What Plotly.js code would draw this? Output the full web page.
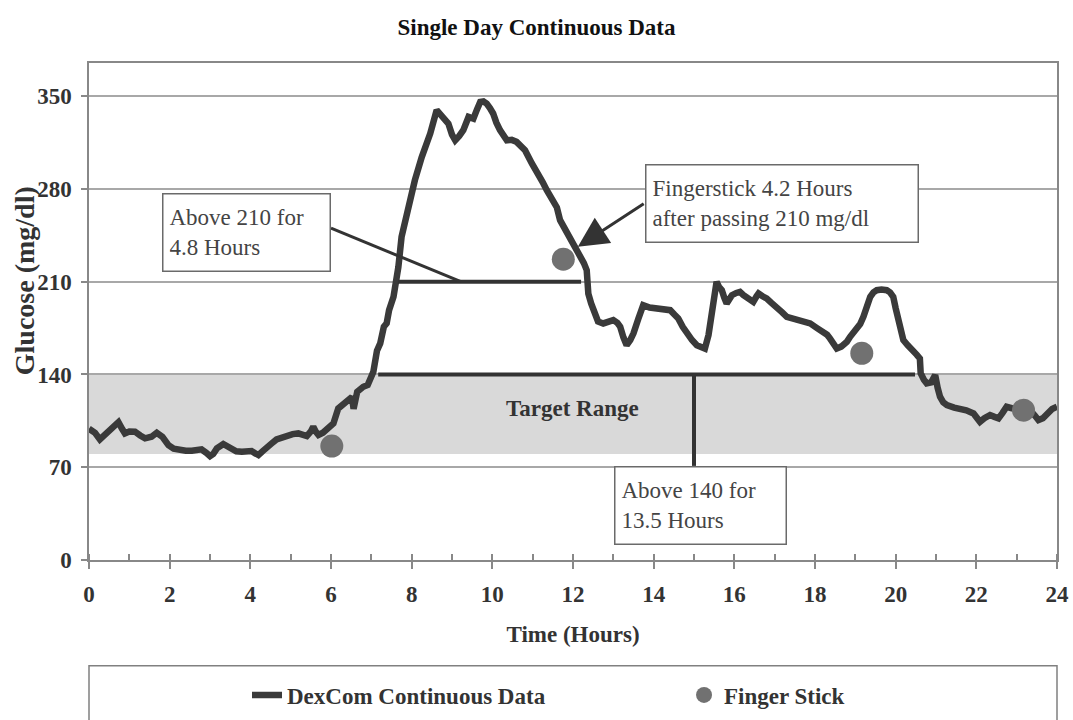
<!DOCTYPE html>
<html>
<head>
<meta charset="utf-8">
<script src="https://cdn.plot.ly/plotly-3.0.1.min.js"></script>
<style>html,body{margin:0;padding:0;background:#fff;}#chart{width:1073px;height:720px;}</style>
</head>
<body>
<div id="chart"></div>
<script>
// ---- Data ----
const dexcomHours = [0.00,0.15,0.27,0.40,0.48,0.60,0.73,0.82,0.89,1.00,1.14,1.27,1.39,1.55,1.68,1.82,1.97,2.10,2.21,2.40,2.55,2.70,2.79,2.90,3.00,3.08,3.17,3.33,3.45,3.54,3.65,3.79,3.90,4.03,4.12,4.20,4.30,4.41,4.53,4.65,4.80,4.94,5.05,5.19,5.30,5.40,5.50,5.56,5.62,5.69,5.80,5.89,5.98,6.06,6.18,6.28,6.35,6.45,6.52,6.56,6.65,6.80,6.91,7.05,7.14,7.22,7.31,7.38,7.44,7.55,7.67,7.75,7.92,8.08,8.25,8.46,8.62,8.70,8.79,8.91,9.00,9.08,9.18,9.28,9.41,9.53,9.62,9.70,9.78,9.86,9.94,10.02,10.10,10.19,10.36,10.48,10.60,10.70,10.81,10.98,11.14,11.25,11.35,11.51,11.60,11.68,11.80,11.93,12.05,12.17,12.27,12.34,12.38,12.45,12.55,12.62,12.75,12.88,13.00,13.10,13.17,13.25,13.33,13.42,13.50,13.62,13.74,13.90,14.08,14.25,14.41,14.52,14.61,14.72,14.82,14.95,15.07,15.18,15.27,15.36,15.44,15.50,15.56,15.62,15.69,15.75,15.81,15.88,15.94,16.05,16.14,16.22,16.31,16.40,16.47,16.55,16.60,16.70,16.80,16.92,17.05,17.18,17.30,17.45,17.63,17.75,17.88,18.05,18.21,18.30,18.37,18.46,18.54,18.65,18.79,18.87,19.04,19.12,19.20,19.28,19.37,19.45,19.53,19.65,19.78,19.86,19.94,20.00,20.07,20.12,20.19,20.30,20.44,20.52,20.60,20.62,20.70,20.77,20.88,20.98,21.04,21.10,21.18,21.27,21.45,21.60,21.75,21.93,22.00,22.09,22.20,22.34,22.45,22.55,22.65,22.75,22.88,23.00,23.15,23.33,23.45,23.54,23.65,23.75,23.88,24.00];
const dexcomGlucose = [99,96,91,95,98,101,104,99,95.5,97,96.8,94,91.8,93,96,93,86.7,84,83,82.5,82.4,83,83.5,81,78.4,80,84.2,87.5,85,83,82,81.7,82.5,82.2,80.5,79.2,82,85.4,88,91,93,94.3,95,95.5,94.5,93.5,97,100.5,97,94.3,96,98,100,103,114.4,117,119.4,121,123,114,127,130.7,132,142,158,163.4,176,178.5,188.5,198.6,221,243.8,266.4,286.6,304,321.8,339.4,337,334.3,329.3,321,316.7,320,324.3,334.3,333,340,345.6,346,344.4,341,336.9,330,324.3,316.7,317,315.5,313,309.2,299.2,291.6,285,279,271.5,266,256.4,250,243.8,238,231.3,224,218.7,201,193.6,186,180,178.5,180,181,179,176,168,162.1,166,171,182,192.3,190.5,189.8,189,188.5,185,182.3,176,171,166,162.1,160,159.6,169.7,184.8,200,209.9,206,203.6,198,193.6,197,199.8,201.5,202.3,200,198.6,196,194.8,199,201.1,199,197.4,194,191,187,183.5,182.5,181,180,178.5,175,172.2,170,167.2,163,159.6,161,164.6,168.4,174,178,183.5,191,198.6,202,203.6,204,203.6,202,198.6,190,181,173,166,162,158.4,155,152.1,141,136,133.3,134,139.5,130,123.2,119,116.9,115,114.4,113,110.6,107,104.3,107,109.4,108,106.9,111,115.6,114.5,114.4,113.5,113.1,109,105.6,107,110.6,114,115.6];

const fingerHours = [6.02, 11.76, 19.16, 23.17];
const fingerGlucose = [86, 227, 156, 113];

const targetRange = [80, 140];
const yTickVals = [0, 70, 140, 210, 280, 350];
const above210Span = [7.66, 12.2];   // hours, horizontal bar at 210
const above140Span = [7.17, 20.48];  // hours, horizontal bar at 140

const SERIF = '"Liberation Serif", "Times New Roman", serif';
const FS = 23;

const traces = [
  {
    x: dexcomHours, y: dexcomGlucose, type: 'scatter', mode: 'lines',
    name: 'DexCom Continuous Data', legend: 'legend',
    line: {color: '#3a3a3a', width: 6.5, shape: 'linear'}
  },
  {
    x: fingerHours, y: fingerGlucose, type: 'scatter', mode: 'markers',
    name: 'Finger Stick', legend: 'legend2',
    marker: {color: '#717171', size: 23, line: {width: 0}}
  }
];

const boxStyle = {
  showarrow: false, bgcolor: '#ffffff', bordercolor: '#6a6a6a', borderwidth: 1.5,
  borderpad: 6, align: 'left', xanchor: 'center', yanchor: 'middle',
  font: {family: SERIF, size: FS, color: '#444'}
};

const legendCommon = {
  orientation: 'h', xanchor: 'left', xref: 'container', yref: 'container',
  y: 0.0347, yanchor: 'middle',
  font: {family: SERIF, size: FS, weight: 'bold', color: '#333'},
  bgcolor: 'rgba(0,0,0,0)', borderwidth: 0, itemsizing: 'trace'
};

const layout = {
  width: 1073, height: 720,
  margin: {l: 89, r: 16, t: 63, b: 160},
  paper_bgcolor: '#ffffff', plot_bgcolor: '#ffffff',
  font: {family: SERIF, color: '#333'},
  title: {
    text: 'Single Day Continuous Data',
    font: {family: SERIF, size: FS, weight: 'bold', color: '#111'},
    x: 0.5, xref: 'container', y: 0.9625, yref: 'container', yanchor: 'middle'
  },
  showlegend: true,
  legend: Object.assign({}, legendCommon, {x: 0.2302}),
  legend2: Object.assign({}, legendCommon, {x: 0.6375}),
  xaxis: {
    range: [0, 24], tick0: 0, dtick: 2,
    ticks: 'outside', ticklen: 7, tickwidth: 1.5, tickcolor: '#888',
    showline: true, linecolor: '#888', linewidth: 1.5, mirror: true,
    showgrid: false, zeroline: false, ticklabelstandoff: 6, automargin: false,
    tickfont: {family: SERIF, size: FS, weight: 'bold', color: '#333'},
    minor: {dtick: 1, ticks: 'inside', ticklen: 6, tickwidth: 1.5, tickcolor: '#888', showgrid: false},
    title: {text: 'Time (Hours)', font: {family: SERIF, size: FS, weight: 'bold', color: '#333'}, standoff: 20}
  },
  yaxis: {
    range: [0, 375], tickvals: yTickVals,
    ticks: 'outside', ticklen: 6, tickwidth: 1.5, tickcolor: '#888',
    showline: true, linecolor: '#888', linewidth: 1.5, mirror: true,
    showgrid: true, gridcolor: '#a8a8a8', gridwidth: 1.5, zeroline: false,
    ticklabelstandoff: 5, automargin: false,
    tickfont: {family: SERIF, size: FS, weight: 'bold', color: '#333'}
  },
  shapes: [
    {type: 'rect', xref: 'x', yref: 'y', x0: 0, x1: 24, y0: targetRange[0], y1: targetRange[1],
     fillcolor: '#d9d9d9', line: {width: 0}, layer: 'below'},
    {type: 'line', xref: 'x', yref: 'y', x0: above210Span[0], x1: above210Span[1], y0: 210, y1: 210,
     line: {color: '#333', width: 4}},
    {type: 'line', xref: 'x', yref: 'y', x0: above140Span[0], x1: above140Span[1], y0: 140, y1: 140,
     line: {color: '#333', width: 4}},
    {type: 'line', xref: 'x', yref: 'y', x0: 15, x1: 15, y0: 140, y1: 71,
     line: {color: '#333', width: 4}},
    {type: 'line', xref: 'x', yref: 'y', x0: 6.0, x1: 9.22, y0: 250.4, y1: 210,
     line: {color: '#333', width: 3}},
    {type: 'rect', xref: 'paper', yref: 'paper', x0: 0, x1: 1, y0: -0.2127, y1: -0.345,
     line: {color: '#808080', width: 1.5}, fillcolor: 'rgba(0,0,0,0)'}
  ],
  annotations: [
    {text: 'Target Range', x: 11.98, y: 114.6, xref: 'x', yref: 'y', showarrow: false,
     font: {family: SERIF, size: FS, weight: 'bold', color: '#333'}},
    Object.assign({}, boxStyle, {text: 'Above 210 for<br>4.8 Hours', x: 3.91, y: 247, xref: 'x', yref: 'y', width: 154, height: 64}),
    Object.assign({}, boxStyle, {text: 'Fingerstick 4.2 Hours<br>after passing 210 mg/dl', x: 17.18, y: 268.9, xref: 'x', yref: 'y', width: 259, height: 64}),
    Object.assign({}, boxStyle, {text: 'Above 140 for<br>13.5 Hours', x: 15.15, y: 41.5, xref: 'x', yref: 'y', width: 158, height: 64}),
    {text: '', x: 12.12, y: 236.3, xref: 'x', yref: 'y', ax: 13.79, ay: 269.5, axref: 'x', ayref: 'y',
     showarrow: true, arrowhead: 2, arrowsize: 2, arrowwidth: 3, arrowcolor: '#333'},
    {text: 'Glucose (mg/dl)', textangle: -90, xref: 'paper', yref: 'paper', x: -0.0671, y: 0.561,
     xanchor: 'center', yanchor: 'middle', showarrow: false,
     font: {family: SERIF, size: 28, weight: 'bold', color: '#333'}}
  ]
};

Plotly.newPlot('chart', traces, layout, {displayModeBar: false, responsive: false});
</script>
</body>
</html>
